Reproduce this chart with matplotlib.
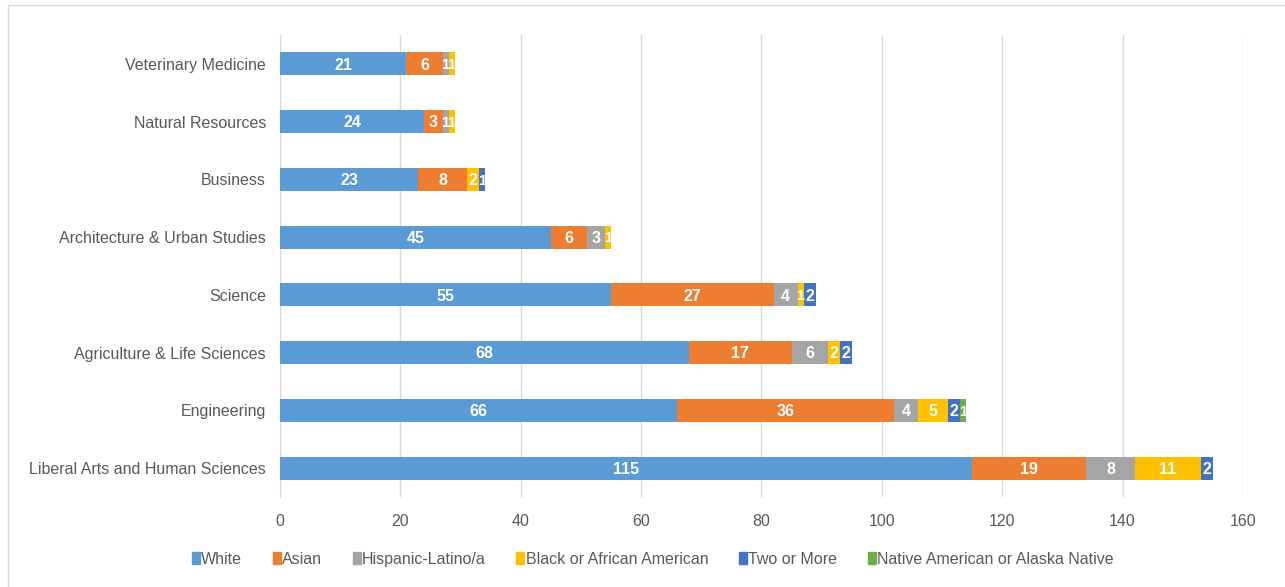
import matplotlib.pyplot as plt
import matplotlib.patches as mpatches
import numpy as np

plt.rcParams['font.family'] = ['Liberation Sans', 'DejaVu Sans']

# data, bottom to top
colleges = ['Liberal Arts and Human Sciences', 'Engineering', 'Agriculture & Life Sciences',
            'Science', 'Architecture & Urban Studies', 'Business', 'Natural Resources',
            'Veterinary Medicine']
groups = ['White', 'Asian', 'Hispanic-Latino/a', 'Black or African American',
          'Two or More', 'Native American or Alaska Native']
white = [115, 66, 68, 55, 45, 23, 24, 21]
asian = [19, 36, 17, 27, 6, 8, 3, 6]
hispanic = [8, 4, 6, 4, 3, 0, 1, 1]
black = [11, 5, 2, 1, 1, 2, 1, 1]
two_more = [2, 2, 2, 2, 0, 1, 0, 0]
native = [0, 1, 0, 0, 0, 0, 0, 0]
colors = ['#5B9BD5', '#ED7D31', '#A5A5A5', '#FFC000', '#4472C4', '#70AD47']

series = [white, asian, hispanic, black, two_more, native]

fig = plt.figure(figsize=(12.85, 5.87), dpi=100)
ax = fig.add_axes([0.2179, 0.1533, 0.7494, 0.787])

y = np.arange(len(colleges))
left = np.zeros(len(colleges))
for vals, name, c in zip(series, groups, colors):
    vals = np.array(vals, dtype=float)
    ax.barh(y, vals, left=left, height=0.4, color=c, label=name, zorder=3)
    for yi, (l, v) in enumerate(zip(left, vals)):
        if v > 0:
            # single-digit labels in narrow segments are drawn a touch smaller
            fs = 11.5 if v >= 2 else 10.5
            ax.text(l + v / 2, yi - 0.02, str(int(v)), ha='center', va='center',
                    color='white', fontsize=fs, fontweight='bold', zorder=4)
    left += vals

ax.set_xlim(0, 160)
ax.set_ylim(-0.5, 7.5)
ax.set_xticks(range(0, 161, 20))
ax.set_yticks(y)
ax.set_yticklabels(colleges)
ax.tick_params(axis='both', length=0, labelsize=11.5, colors='#595959', pad=12)
ax.tick_params(axis='y', pad=10)
ax.grid(axis='x', color='#d9d9d9', linewidth=1, zorder=0)
for s in ['top', 'right', 'bottom']:
    ax.spines[s].set_visible(False)
ax.spines['left'].set_color('#d9d9d9')

handles = [mpatches.Patch(color=c, label=g) for g, c in zip(groups, colors)]
fig.legend(handles=handles, loc='center', bbox_to_anchor=(0.508, 0.047), ncol=6,
           frameon=False, fontsize=11.5, handlelength=0.5, handleheight=0.8,
           handletextpad=0.1, columnspacing=1.9, labelcolor='#595959')

# chart border
fig.patches.append(mpatches.Rectangle((8 / 1285, -0.01), 1.0, 1 - 5 / 587 + 0.01,
                                      transform=fig.transFigure, fill=False,
                                      edgecolor='#d9d9d9', linewidth=1))

fig.savefig('out.png', dpi=100)
